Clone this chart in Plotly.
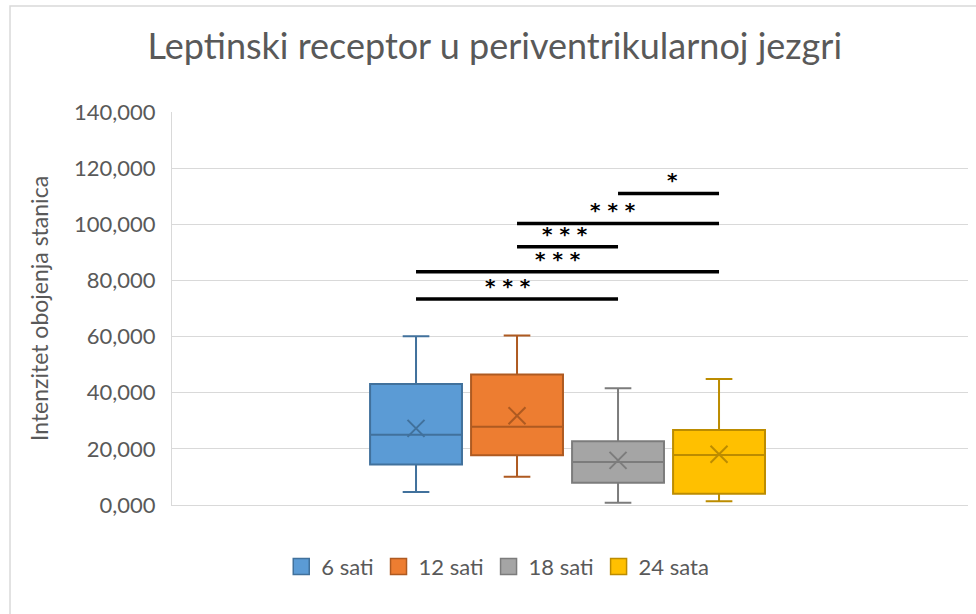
import plotly.graph_objects as go

groups = ["6 sati", "12 sati", "18 sati", "24 sata"]
positions = [1, 2, 3, 4]
lower = [4.6, 10.1, 0.8, 1.3]
q1 = [14.4, 17.7, 7.95, 4.0]
median = [25.0, 27.9, 15.3, 17.8]
q3 = [43.1, 46.5, 22.7, 26.7]
upper = [60.1, 60.4, 41.6, 44.9]
mean = [27.3, 31.8, 15.9, 18.1]

fills = ["#5B9BD5", "#ED7D31", "#A5A5A5", "#FFC000"]
edges = ["#41719C", "#AE5A21", "#7C7C7C", "#BC8C00"]

# significance comparisons: (from group index, to group index, level, label, label x)
comp_from = [2, 1, 1, 0, 0]
comp_to = [3, 3, 2, 3, 2]
comp_level = [111.0, 100.3, 92.0, 83.1, 73.4]
comp_label = ["*", "* * *", "* * *", "* * *", "* * *"]
comp_label_x = [3.54, 2.95, 2.47, 2.41, 1.91]

yticks = [0, 20, 40, 60, 80, 100, 120, 140]

fig = go.Figure()
for i, g in enumerate(groups):
    fig.add_trace(go.Box(
        name=g, x=[positions[i]], q1=[q1[i]], median=[median[i]], q3=[q3[i]],
        lowerfence=[lower[i]], upperfence=[upper[i]],
        fillcolor=fills[i], line=dict(color=edges[i], width=2),
        width=0.91, whiskerwidth=0.29, boxpoints=False, hoverinfo="skip",
        showlegend=False, legendgroup=g,
    ))
for i, g in enumerate(groups):
    fig.add_trace(go.Scatter(
        x=[positions[i]], y=[mean[i]], mode="markers", showlegend=False,
        marker=dict(symbol="x-thin", size=17, line=dict(color=edges[i], width=2)),
        hoverinfo="skip",
    ))
# legend entries
for i, g in enumerate(groups):
    fig.add_trace(go.Scatter(
        x=[None], y=[None], mode="markers", name=g, legendgroup=g,
        marker=dict(symbol="square", size=20, color=fills[i],
                    line=dict(color=edges[i], width=1.5)),
    ))

for a, b, lvl, lab, lx in zip(comp_from, comp_to, comp_level, comp_label, comp_label_x):
    fig.add_shape(type="line", x0=positions[a], x1=positions[b], y0=lvl, y1=lvl,
                  xref="x", yref="y", line=dict(color="black", width=3.5))
    fig.add_annotation(x=lx, y=lvl, text=lab, showarrow=False, yanchor="bottom",
                       yshift=-1,
                       font=dict(family="DejaVu Sans", size=20, color="black", weight="bold"))

# chart-area frame (partly outside the canvas, as in the reference)
fig.add_shape(type="rect", xref="paper", yref="paper",
              x0=-0.2035, x1=1.2, y0=-0.4, y1=1.2697,
              line=dict(color="#D9D9D9", width=1.5), fillcolor="rgba(0,0,0,0)",
              layer="below")

fig.update_layout(
    width=976, height=614,
    paper_bgcolor="white", plot_bgcolor="white",
    separators=",.",
    margin=dict(l=172, r=8, t=112, b=109, autoexpand=False),
    title=dict(text="Leptinski receptor u periventrikularnoj jezgri",
               x=0.507, xanchor="center", y=0.925, yanchor="middle",
               font=dict(family="Lato", size=36, color="#595959")),
    font=dict(family="Lato", color="#595959"),
    showlegend=True,
    legend=dict(orientation="h", xref="container", yref="container",
                x=0.51, xanchor="center", y=0.077, yanchor="middle",
                font=dict(size=22, color="#595959"), traceorder="normal",
                itemsizing="trace"),
    xaxis=dict(range=[-1.416, 6.465], showticklabels=False, showgrid=False,
               zeroline=False, showline=True, linecolor="#D9D9D9", linewidth=1,
               automargin=False),
    yaxis=dict(range=[0, 140], tickvals=yticks, tickformat=".3f",
               showgrid=True, gridcolor="#D9D9D9", gridwidth=1,
               zeroline=False, showline=True, linecolor="#D9D9D9",
               tickfont=dict(size=22, color="#595959"), ticklen=0,
               ticklabelstandoff=11, automargin=False,
               title=dict(text="Intenzitet obojenja stanica",
                          font=dict(size=23, color="#595959"), standoff=18)),
)

fig.write_html("out.html", config={"displayModeBar": False},
               post_script="document.body.style.margin='0';")
